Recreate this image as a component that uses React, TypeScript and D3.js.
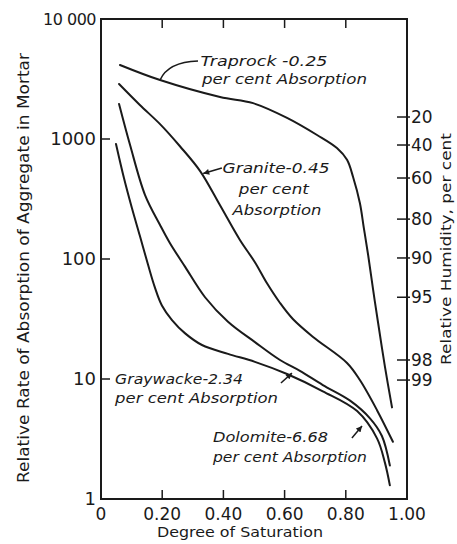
import * as d3 from 'd3';

// [degree of saturation, relative rate of absorption]
const traprock: [number, number][] = [
  [0.062, 4140], [0.193, 3100], [0.389, 2240], [0.497, 1990], [0.608, 1500],
  [0.706, 1080], [0.771, 840], [0.804, 670], [0.824, 480], [0.846, 293],
  [0.859, 181], [0.873, 108], [0.889, 56], [0.905, 30], [0.928, 12.6], [0.951, 5.8],
];
const granite: [number, number][] = [
  [0.059, 2870], [0.127, 1920], [0.193, 1330], [0.258, 870], [0.324, 540],
  [0.389, 280], [0.454, 144], [0.503, 94], [0.542, 63], [0.585, 43],
  [0.627, 31.6], [0.693, 22.4], [0.804, 13.6], [0.846, 9.8], [0.902, 5.5], [0.954, 3.0],
];
const graywacke: [number, number][] = [
  [0.059, 1960], [0.095, 891], [0.144, 341], [0.193, 192], [0.225, 136],
  [0.275, 86], [0.34, 48], [0.415, 30], [0.503, 20.3], [0.585, 14.4],
  [0.65, 11.7], [0.725, 8.9], [0.814, 6.6], [0.879, 4.7], [0.918, 3.35], [0.944, 1.9],
];
const dolomite: [number, number][] = [
  [0.049, 909], [0.075, 473], [0.101, 266], [0.127, 156], [0.154, 89],
  [0.176, 58], [0.199, 41], [0.232, 31], [0.275, 24], [0.33, 19.2],
  [0.415, 16.2], [0.503, 13.9], [0.608, 11], [0.725, 7.9], [0.837, 5.4],
  [0.902, 3.2], [0.928, 2.0], [0.944, 1.3],
];

const yTicks = [1, 10, 100, 1000, 10000];
const yTickLabels = ['1', '10', '100', '1000', '10 000'];
const xTicks = [0, 0.2, 0.4, 0.6, 0.8, 1.0];
const xTickLabels = ['0', '0.20', '0.40', '0.60', '0.80', '1.00'];
// relative humidity scale on the right, and the rate each mark lines up with
const rhLabels = ['20', '40', '60', '80', '90', '95', '98', '99'];
const rhRate = [1525, 891, 473, 215, 102, 48, 14.4, 9.8];

const W = 457;
const H = 544;
const left = 101, right = 407, top = 19, bottom = 499;
const ink = '#1a1a1a';
const sans = '"DejaVu Sans", sans-serif';

// label lines placed in data units: [degree, rate]
const notes = [
  { text: 'Traprock -0.25', at: [0.325, 4500], w: 127, anchor: 'start' },
  { text: 'per cent Absorption', at: [0.33, 3160], w: 165, anchor: 'start' },
  { text: 'Granite-0.45', at: [0.572, 573], w: 107, anchor: 'middle' },
  { text: 'per cent', at: [0.565, 383], w: 70, anchor: 'middle' },
  { text: 'Absorption', at: [0.575, 256], w: 89, anchor: 'middle' },
  { text: 'Graywacke-2.34', at: [0.046, 10], w: 128, anchor: 'start' },
  { text: 'per cent Absorption', at: [0.046, 6.95], w: 163, anchor: 'start' },
  { text: 'Dolomite-6.68', at: [0.366, 3.29], w: 115, anchor: 'start' },
  { text: 'per cent Absorption', at: [0.366, 2.24], w: 154, anchor: 'start' },
];
const pointers = [
  { from: [0.395, 573], to: [0.334, 515] },
  { from: [0.588, 9.26], to: [0.624, 11.2] },
  { from: [0.82, 3.22], to: [0.853, 4.06] },
];

export default function App() {
  const x = d3.scaleLinear().domain([0, 1]).range([left, right]);
  const y = d3.scaleLog().domain([1, 10000]).range([bottom, top]);

  const line = d3.line<[number, number]>()
    .x(d => x(d[0]))
    .y(d => y(d[1]))
    .curve(d3.curveCatmullRom.alpha(0.5));

  const series = [traprock, granite, graywacke, dolomite];

  // hooked leader from the traprock curve up to its label
  const hook = d3.path();
  hook.moveTo(x(0.193), y(3100));
  hook.quadraticCurveTo(x(0.219), y(4385), x(0.317), y(4467));

  return (
    <svg width={W} height={H} style={{ position: 'absolute', left: 0, top: 0, background: '#fff' }}>
      <defs>
        <marker id="tip" viewBox="0 0 10 10" refX="10" refY="5" markerWidth="7" markerHeight="6"
          markerUnits="userSpaceOnUse" orient="auto">
          <path d="M0,0 L10,5 L0,10 z" fill={ink} />
        </marker>
      </defs>
      <rect x={0} y={0} width={W} height={H} fill="#fff" />

      {/* frame */}
      <rect x={left} y={top} width={right - left} height={bottom - top}
        fill="none" stroke={ink} strokeWidth={2} />

      {/* x ticks, top and bottom, inward */}
      {xTicks.slice(1, -1).map(t => (
        <g key={'xt' + t}>
          <line x1={x(t)} x2={x(t)} y1={bottom} y2={bottom - 9} stroke={ink} strokeWidth={1.5} />
          <line x1={x(t)} x2={x(t)} y1={top} y2={top + 9} stroke={ink} strokeWidth={1.5} />
        </g>
      ))}
      {xTicks.map((t, i) => (
        <text key={'xl' + t} x={x(t)} y={514} dy="0.35em" textAnchor="middle"
          fontFamily={sans} fontSize={17} fill={ink}>{xTickLabels[i]}</text>
      ))}

      {/* y ticks */}
      {yTicks.slice(1, -1).map(t => (
        <line key={'yt' + t} x1={left} x2={left + 9} y1={y(t)} y2={y(t)} stroke={ink} strokeWidth={1.5} />
      ))}
      {yTicks.map((t, i) => (
        <text key={'yl' + t} x={96} y={y(t)} dy="0.35em" textAnchor="end"
          fontFamily={sans} fontSize={t === 10000 ? 16 : 18} fill={ink}
          letterSpacing={t === 10000 ? -0.5 : 0}>{yTickLabels[i]}</text>
      ))}

      {/* relative humidity scale */}
      {rhRate.map((r, i) => (
        <g key={'rh' + i}>
          <line x1={right - 10} x2={right + 3} y1={y(r)} y2={y(r)} stroke={ink} strokeWidth={1.5} />
          <text x={right + 4} y={y(r)} dy="0.35em" fontFamily={sans} fontSize={17} fill={ink}>{rhLabels[i]}</text>
        </g>
      ))}

      {/* curves */}
      {series.map((s, i) => (
        <path key={'s' + i} d={line(s) || ''} fill="none" stroke={ink} strokeWidth={2} strokeLinecap="round" />
      ))}

      {/* annotations */}
      <path d={hook.toString()} fill="none" stroke={ink} strokeWidth={1.5} />
      {pointers.map((p, i) => (
        <line key={'p' + i} x1={x(p.from[0])} y1={y(p.from[1])} x2={x(p.to[0])} y2={y(p.to[1])}
          stroke={ink} strokeWidth={1.5} markerEnd="url(#tip)" />
      ))}
      {notes.map((n, i) => (
        <text key={'n' + i} x={x(n.at[0])} y={y(n.at[1])} dy="0.35em" textAnchor={n.anchor}
          fontFamily={sans} fontStyle="italic" fontSize={14} fill={ink}
          textLength={n.w} lengthAdjust="spacingAndGlyphs">{n.text}</text>
      ))}

      {/* axis titles */}
      <text x={240} y={532} dy="0.35em" textAnchor="middle" fontFamily={sans} fontSize={14} fill={ink}
        textLength={166} lengthAdjust="spacingAndGlyphs">Degree of Saturation</text>
      <text transform="translate(24,268) rotate(-90)" dy="0.35em" textAnchor="middle" fontFamily={sans}
        fontSize={15} fill={ink} textLength={430} lengthAdjust="spacingAndGlyphs">
        Relative Rate of Absorption of Aggregate in Mortar
      </text>
      <text transform="translate(446,249) rotate(-90)" dy="0.35em" textAnchor="middle" fontFamily={sans}
        fontSize={14} fill={ink} textLength={232} lengthAdjust="spacingAndGlyphs">
        Relative Humidity, per cent
      </text>
    </svg>
  );
}
